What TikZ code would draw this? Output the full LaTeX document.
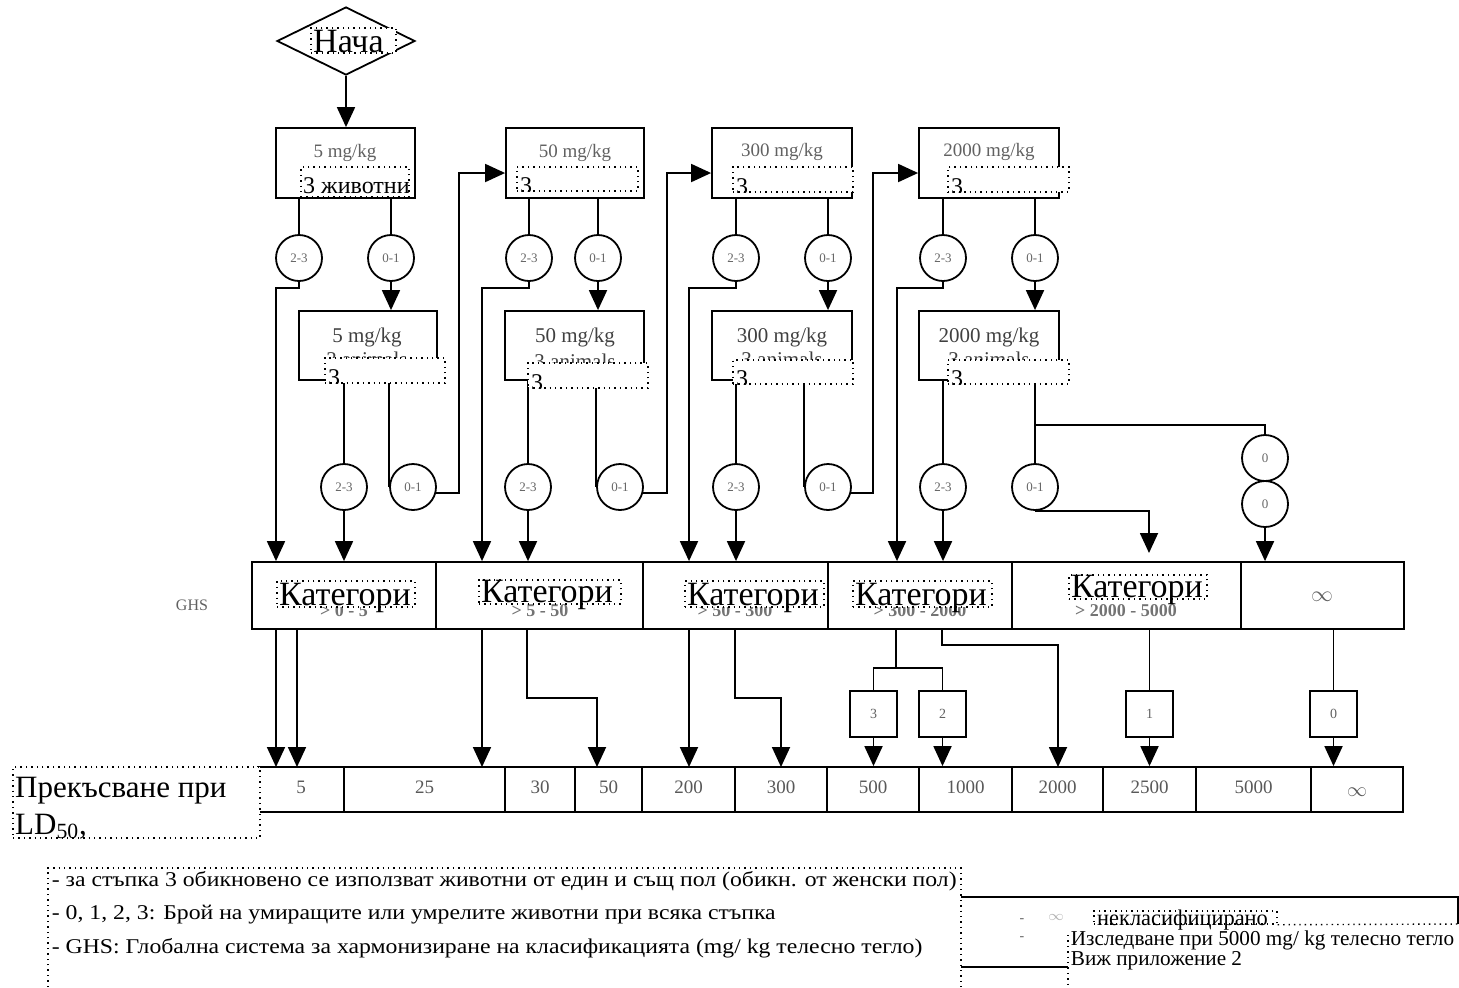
\documentclass[tikz,border=0pt]{standalone}
\usepackage{fontspec}
\setmainfont{Liberation Serif}
\newfontfamily\wideserif[FakeStretch=1.13]{Liberation Serif}
\usetikzlibrary{fit,arrows.meta,shapes.geometric,calc}

\begin{document}
\begin{tikzpicture}[x=0.5pt,y=-0.5pt,line width=0.9pt,
  frame/.style={draw,inner sep=0pt},
  over/.style={draw,dotted,line width=0.7pt,fill=white,inner sep=0pt},
  ring/.style={draw,circle,minimum size=23pt,inner sep=0pt,
      font=\fontsize{6.5}{6.5}\selectfont,text=black!60},
  arr/.style={-{Triangle[length=10pt,width=9pt]}},
  scan/.style={inner sep=0pt,text=black!62},
  dose/.style={scan,font=\fontsize{9.5}{10}\selectfont},
  doseb/.style={scan,font=\fontsize{10.5}{11}\selectfont,text=black!75},
  rangetext/.style={scan,font=\bfseries\fontsize{9}{10}\selectfont,text=black!55},
  cellbox/.style={frame},
  cellnum/.style={scan,font=\fontsize{9.5}{10}\selectfont,text=black!65},
  countbox/.style={frame},
  big/.style={inner sep=0pt,anchor=base west,font=\fontsize{17}{17}\selectfont},
  three/.style={inner sep=0pt,anchor=base west,font=\fontsize{12}{12}\selectfont},
  notetext/.style={inner sep=0pt,anchor=base west,font=\wideserif\fontsize{10.5}{11}\selectfont},
  side/.style={inner sep=0pt,anchor=base west,font=\fontsize{10.6}{11}\selectfont}]
\useasboundingbox (0,0) rectangle (1459,987);

% ---------- start ----------
\node[draw,diamond,minimum width=69pt,minimum height=34pt,inner sep=0pt] (start) at (346,41) {};

% ---------- first dosing step ----------
\node[frame,fit={(276,128) (415,198)}] (b1) {};
\node[frame,fit={(506,128) (644,198)}] (b2) {};
\node[frame,fit={(712,128) (852,198)}] (b3) {};
\node[frame,fit={(919,128) (1059,198)}] (b4) {};
\node[dose] (tb1) at (345,153) {5 mg/kg};
\node[dose] (tb2) at (575,153) {50 mg/kg};
\node[dose] (tb3) at (782,152) {300 mg/kg};
\node[dose] (tb4) at (989,152) {2000 mg/kg};

\node[ring] (c1a) at (299,258) {2-3};
\node[ring] (c1b) at (391,258) {0-1};
\node[ring] (c2a) at (529,258) {2-3};
\node[ring] (c2b) at (598,258) {0-1};
\node[ring] (c3a) at (736,258) {2-3};
\node[ring] (c3b) at (828,258) {0-1};
\node[ring] (c4a) at (943,258) {2-3};
\node[ring] (c4b) at (1035,258) {0-1};

% ---------- second dosing step ----------
\node[frame,fit={(299,311) (437,380)}] (d1) {};
\node[frame,fit={(505,311) (644,380)}] (d2) {};
\node[frame,fit={(712,311) (852,380)}] (d3) {};
\node[frame,fit={(919,311) (1059,380)}] (d4) {};
\node[doseb] (td1) at (367,337) {5 mg/kg};
\node[doseb] (td2) at (575,337) {50 mg/kg};
\node[doseb] (td3) at (782,337) {300 mg/kg};
\node[doseb] (td4) at (989,337) {2000 mg/kg};
\node[doseb,anchor=base] (ad1) at (367,366) {3 animals};
\node[doseb,anchor=base] (ad2) at (575,368) {3 animals};
\node[doseb,anchor=base] (ad3) at (782,366) {3 animals};
\node[doseb,anchor=base] (ad4) at (989,366) {3 animals};

\node[ring] (e1a) at (344,487) {2-3};
\node[ring] (e1b) at (413,487) {0-1};
\node[ring] (e2a) at (528,487) {2-3};
\node[ring] (e2b) at (620,487) {0-1};
\node[ring] (e3a) at (736,487) {2-3};
\node[ring] (e3b) at (828,487) {0-1};
\node[ring] (e4a) at (943,487) {2-3};
\node[ring] (e4b) at (1035,487) {0-1};
\node[ring] (f1) at (1265,458) {0};
\node[ring] (f2) at (1265,504) {0};

% ---------- GHS categories ----------
\node[scan,font=\fontsize{8}{8}\selectfont] (ghs) at (192,605) {GHS};
\node[frame,fit={(252,562) (436,629)}] (k1) {};
\node[frame,fit={(436,562) (643,629)}] (k2) {};
\node[frame,fit={(643,562) (828,629)}] (k3) {};
\node[frame,fit={(828,562) (1012,629)}] (k4) {};
\node[frame,fit={(1012,562) (1241,629)}] (k5) {};
\node[frame,fit={(1241,562) (1404,629)}] (k6) {};
\node[rangetext,anchor=base] (r1) at (344,616) {> 0 - 5};
\node[rangetext,anchor=base] (r2) at (540,616) {> 5 - 50};
\node[rangetext,anchor=base] (r3) at (735,616) {> 50 - 300};
\node[rangetext,anchor=base] (r4) at (920,616) {> 300 - 2000};
\node[rangetext,anchor=base] (r5) at (1126,616) {> 2000 - 5000};
\node[scan,font=\fontsize{11}{11}\selectfont] (inf6) at (1322,597) {$\infty$};

% ---------- number of dead animals at step 3 ----------
\node[countbox,fit={(850,691) (897,737)}] (m3) {};
\node[countbox,fit={(919,691) (966,737)}] (m2) {};
\node[countbox,fit={(1126,691) (1173,737)}] (m1) {};
\node[countbox,fit={(1310,691) (1357,737)}] (m0) {};
\node[scan,font=\fontsize{7}{7}\selectfont] (m3t) at (m3) {3};
\node[scan,font=\fontsize{7}{7}\selectfont] (m2t) at (m2) {2};
\node[scan,font=\fontsize{7}{7}\selectfont] (m1t) at (m1) {1};
\node[scan,font=\fontsize{7}{7}\selectfont] (m0t) at (m0) {0};

% ---------- LD50 cut-off row ----------
\node[cellbox,fit={(258,767) (344,812)}] (l1) {};
\node[cellbox,fit={(344,767) (505,812)}] (l2) {};
\node[cellbox,fit={(505,767) (575,812)}] (l3) {};
\node[cellbox,fit={(575,767) (642,812)}] (l4) {};
\node[cellbox,fit={(642,767) (735,812)}] (l5) {};
\node[cellbox,fit={(735,767) (827,812)}] (l6) {};
\node[cellbox,fit={(827,767) (919,812)}] (l7) {};
\node[cellbox,fit={(919,767) (1012,812)}] (l8) {};
\node[cellbox,fit={(1012,767) (1103,812)}] (l9) {};
\node[cellbox,fit={(1103,767) (1196,812)}] (l10) {};
\node[cellbox,fit={(1196,767) (1311,812)}] (l11) {};
\node[cellbox,fit={(1311,767) (1403,812)}] (l12) {};
\foreach \c/\t in {l1/5,l2/25,l3/30,l4/50,l5/200,l6/300,l7/500,l8/1000,l9/2000,l10/2500,l11/5000}
  \node[cellnum] at ([yshift=1pt]\c.center) {\t};
\node[cellnum,font=\fontsize{10}{10}\selectfont] (l12t) at ([yshift=-1.5pt]l12.center) {$\infty$};

% ---------- connectors ----------
\coordinate (h1) at (276,288);
\coordinate (h2) at (482,288);
\coordinate (h3) at (689,288);
\coordinate (h4) at (897,288);
\coordinate (j1) at (459,173);
\coordinate (j2) at (667,173);
\coordinate (j3) at (873,173);
\coordinate (split) at (1035,425);
\coordinate (g1) at (1149,553);

\draw[arr] (start.south) -- (start.south |- b1.north);

\foreach \b/\a/\o in {b1/c1a/c1b,b2/c2a/c2b,b3/c3a/c3b,b4/c4a/c4b}{
  \draw (\a.north |- \b.south) -- (\a.north);
  \draw (\o.north |- \b.south) -- (\o.north);
}
\draw[arr] (c1b.south) -- (c1b.south |- d1.north);
\draw[arr] (c2b.south) -- (c2b.south |- d2.north);
\draw[arr] (c3b.south) -- (c3b.south |- d3.north);
\draw[arr] (c4b.south) -- (c4b.south |- d4.north);

\draw[arr] (c1a.south) |- (h1) -- (h1 |- k1.north);
\draw[arr] (c2a.south) |- (h2) -- (h2 |- k2.north);
\draw[arr] (c3a.south) |- (h3) -- (h3 |- k3.north);
\draw[arr] (c4a.south) |- (h4) -- (h4 |- k4.north);

\draw (e1a.north |- d1.south) -- (e1a.north);
\draw (e2a.north |- d2.south) -- (e2a.north);
\draw (e3a.north |- d3.south) -- (e3a.north);
\draw (e4a.north |- d4.south) -- (e4a.north);
\draw[arr] (e1a.south) -- (e1a.south |- k1.north);
\draw[arr] (e2a.south) -- (e2a.south |- k2.north);
\draw[arr] (e3a.south) -- (e3a.south |- k3.north);
\draw[arr] (e4a.south) -- (e4a.south |- k4.north);

\draw (e1b.west |- d1.south) -- (e1b.west);
\draw (e2b.west |- d2.south) -- (e2b.west);
\draw (e3b.west |- d3.south) -- (e3b.west);
\draw[arr] (e1b.-15) -| (j1) -- (j1 -| b2.west);
\draw[arr] (e2b.-15) -| (j2) -- (j2 -| b3.west);
\draw[arr] (e3b.-15) -| (j3) -- (j3 -| b4.west);

\draw (e4b.north |- d4.south) -- (e4b.north);
\draw (split) -| (f1.north);
\draw[arr] (f2.south) -- (f2.south |- k6.north);
\draw[arr] (e4b.south) -| (g1);

% categories down to the cut-off values
\draw[arr] (276,629) -- (276,767);
\draw[arr] (297,629) -- (297,767);
\draw[arr] (482,629) -- (482,767);
\draw[arr] (527,629) |- (597,698) -- (597,767);
\draw[arr] (689,629) -- (689,767);
\draw[arr] (735,629) |- (781,698) -- (781,767);
\draw (896,629) -- (896,668);
\draw (m3.north) |- (896,668) -| (m2.north);
\draw[arr] (942,629) |- (1058,645) -- (1058,767);
\draw (m1.north |- k5.south) -- (m1.north);
\draw (m0.north |- k6.south) -- (m0.north);
\draw[arr] (m3.south) -- (m3.south |- l7.north);
\draw[arr] (m2.south) -- (m2.south |- l8.north);
\draw[arr] (m1.south) -- (m1.south |- l10.north);
\draw[arr] (m0.south) -- (m0.south |- l12.north);

% ---------- text boxes laid over the scan ----------
\node[over,fit={(311,28) (396,53)}] (os) {};
\node[big] (ost) at ([xshift=1pt,yshift=0.5pt]os.south west) {Нача};

\node[over,fit={(301,167) (409,197)}] (o1) {};
\node[three] (o1t) at ([xshift=1pt,yshift=2pt]o1.south west) {3 животни};
\node[over,fit={(517,167) (638,191)}] (o2) {};
\node[over,fit={(733,167) (853,192)}] (o3) {};
\node[over,fit={(948,167) (1069,192)}] (o4) {};
\node[over,fit={(325,358) (445,383)}] (p1) {};
\node[over,fit={(528,363) (648,388)}] (p2) {};
\node[over,fit={(733,360) (853,384)}] (p3) {};
\node[over,fit={(948,360) (1069,384)}] (p4) {};
\foreach \o in {o2,o3,o4,p1,p2,p3,p4}{
  \begin{scope}
    \clip (\o.south west) rectangle (\o.north east);
    \node[three] at ([xshift=1.5pt,yshift=-1pt]\o.south west) {3};
  \end{scope}
}

\node[over,fit={(277,581) (415,607)}] (q1) {};
\node[over,fit={(479,580) (621,604)}] (q2) {};
\node[over,fit={(685,581) (824,607)}] (q3) {};
\node[over,fit={(853,581) (992,607)}] (q4) {};
\node[over,fit={(1069,575) (1207,599)}] (q5) {};
\foreach \q in {q1,q2,q3,q4,q5}
  \node[big] at ([xshift=1pt,yshift=1pt]\q.south west) {Категори};

% ---------- cut-off label ----------
\node[over,fit={(13,767) (260,838)}] (cut) {};
\begin{scope}
  \clip (cut.south west) rectangle (cut.north east);
  \node[inner sep=0pt,anchor=base west,font=\fontsize{15.5}{15.5}\selectfont] (cut1)
    at ([xshift=1pt,yshift=-15.5pt]cut.north west) {Прекъсване при};
  \node[inner sep=0pt,anchor=base west,font=\fontsize{15.5}{15.5}\selectfont] (cut2)
    at ([xshift=1pt,yshift=-34pt]cut.north west) {LD\textsubscript{50},};
\end{scope}

% ---------- notes ----------
\draw[dotted,line width=0.7pt] (48,987) |- (961,868) -- (961,987);
\node[notetext] (nt1) at (51,886) {- за стъпка 3 обикновено се използват животни от един и същ пол (обикн. от женски пол)};
\node[notetext] (nt2) at (51,919) {- 0, 1, 2, 3: Брой на умиращите или умрелите животни при всяка стъпка};
\node[notetext] (nt3) at (51,953) {- GHS: Глобална система за хармонизиране на класификацията (mg/ kg телесно тегло)};

\draw (961,897) -- (1458,897) -- (1458,924);
\draw (961,967) -- (1068,967);
\draw[dotted,line width=0.7pt] (1068,935) -- (1068,987);
\node[scan,font=\fontsize{7}{7}\selectfont] (dash1) at (1022,921) {-};
\node[scan,font=\fontsize{7}{7}\selectfont] (dash2) at (1022,939) {-};
\node[scan,font=\fontsize{7}{7}\selectfont,text=black!30] (infn) at (1056,917) {$\infty$};
\node[over,fit={(1094,911) (1277,924)}] (ncl) {};
\draw[dotted,line width=0.7pt] (ncl.south east) -- (1458,924);
\node[side,font=\fontsize{11.2}{11}\selectfont] (nclt) at ([xshift=1.5pt,yshift=-0.5pt]ncl.south west) {некласифицирано};
\node[side] (sd1) at (1070,945) {Изследване при 5000 mg/ kg телесно тегло};
\node[side] (sd2) at (1070,965) {Виж приложение 2};
\end{tikzpicture}
\end{document}
